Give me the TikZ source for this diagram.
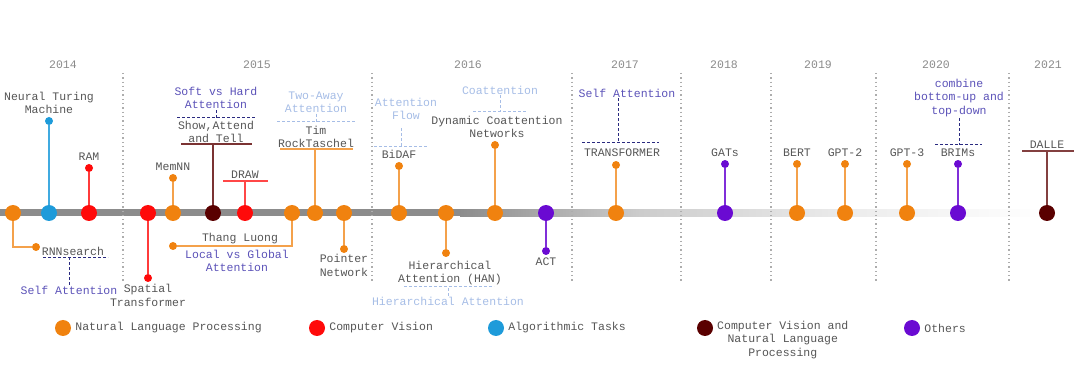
\documentclass[tikz,border=0pt]{standalone}
\usepackage{fontspec}
\setmainfont{Liberation Mono}
\usepackage{tikz}
\usetikzlibrary{positioning}
\definecolor{nlp}{HTML}{F0820F}
\definecolor{cv}{HTML}{FF0A0A}
\definecolor{algo}{HTML}{1E9BDA}
\definecolor{cvnlp}{HTML}{5A0000}
\definecolor{others}{HTML}{6A0AD2}
\definecolor{txtgray}{HTML}{555555}
\definecolor{yeargray}{HTML}{8A8A8A}
\definecolor{attnblue}{HTML}{5B52B8}
\definecolor{paleblue}{HTML}{A6BDE6}
\definecolor{navy}{HTML}{2A2A80}
\tikzset{
  bigdot/.style    = {circle, inner sep=0pt, minimum size=16pt},
  smalldot/.style  = {circle, inner sep=0pt, minimum size=8pt},
  tag/.style       = {text=txtgray, align=center, inner sep=1pt},
  attn/.style      = {tag, text=attnblue},
  pale/.style      = {tag, text=paleblue},
  year/.style      = {text=yeargray, inner sep=1pt},
  stem/.style      = {line width=1.4pt},
  bar/.style       = {line width=1.4pt},
  guide/.style     = {line width=1pt, dash pattern=on 3pt off 2pt, navy},
  paleguide/.style = {guide, paleblue},
  yearsep/.style   = {line width=1.3pt, yeargray!70, dash pattern=on 1.3pt off 3pt}
}

\begin{document}
\begin{tikzpicture}[x=1pt, y=-1pt, font=\fontsize{11.5}{13.3}\selectfont]
  \useasboundingbox (0,0) rectangle (1080,374);

  % Time line
  \fill[gray!90] (0,209.5) rectangle (460,216.5);
  \shade[left color=gray!90, right color=gray!40] (460,209.5) rectangle (640,216.5);
  \shade[left color=gray!40, right color=gray!15] (640,209.5) rectangle (850,216.5);
  \shade[left color=gray!15, right color=white]   (850,209.5) rectangle (1045,216.5);

  % Years and separators
  \node (y2014) [year] at (63,65)   {2014};
  \node (y2015) [year] at (257,65)  {2015};
  \node (y2016) [year] at (468,65)  {2016};
  \node (y2017) [year] at (625,65)  {2017};
  \node (y2018) [year] at (724,65)  {2018};
  \node (y2019) [year] at (818,65)  {2019};
  \node (y2020) [year] at (936,65)  {2020};
  \node (y2021) [year] at (1048,65) {2021};
  \draw[yearsep] (123,73)  -- (123,282);
  \draw[yearsep] (372,73)  -- (372,282);
  \draw[yearsep] (572,73)  -- (572,282);
  \draw[yearsep] (681,73)  -- (681,282);
  \draw[yearsep] (771,73)  -- (771,282);
  \draw[yearsep] (876,73)  -- (876,282);
  \draw[yearsep] (1009,73) -- (1009,282);

  % 2014
  \node (rnn)     [bigdot, fill=nlp]     at (13,213)  {};
  \node (ntm)     [bigdot, fill=algo]    at (49,213)  {};
  \node (ram)     [bigdot, fill=cv]      at (89,213)  {};
  \node (rnn-e)   [smalldot, fill=nlp]   at (36,247)  {};
  \node (ntm-e)   [smalldot, fill=algo]  at (49,121)  {};
  \node (ram-e)   [smalldot, fill=cv]    at (89,168)  {};
  \node (ntm-t)   [tag, above=2pt of ntm-e] {Neural Turing\\Machine};
  \node (ram-t)   [tag, above=2pt of ram-e] {RAM};
  \node (rnn-t)   [tag] at (73,251) {RNNsearch};
  \node (rnn-a)   [attn] at (69,290) {Self Attention};
  \coordinate (rnn-gl) at (43,258);
  \coordinate (rnn-gr) at (108,258);

  % 2015
  \node (stn)     [bigdot, fill=cv]      at (148,213) {};
  \node (memnn)   [bigdot, fill=nlp]     at (173,213) {};
  \node (sat)     [bigdot, fill=cvnlp]   at (213,213) {};
  \node (drw)     [bigdot, fill=cv]      at (245,213) {};
  \node (luong)   [bigdot, fill=nlp]     at (292,213) {};
  \node (tim)     [bigdot, fill=nlp]     at (315,213) {};
  \node (ptr)     [bigdot, fill=nlp]     at (344,213) {};
  \node (stn-e)   [smalldot, fill=cv]    at (148,278) {};
  \node (memnn-e) [smalldot, fill=nlp]   at (173,178) {};
  \node (luong-e) [smalldot, fill=nlp]   at (173,246) {};
  \node (ptr-e)   [smalldot, fill=nlp]   at (344,249) {};
  \node (stn-t)   [tag, below=1pt of stn-e]   {Spatial\\Transformer};
  \node (memnn-t) [tag, above=2pt of memnn-e] {MemNN};
  \node (ptr-t)   [tag, below=0pt of ptr-e]   {Pointer\\Network};
  \coordinate (sat-l) at (181,144);
  \coordinate (sat-r) at (252,144);
  \node (sat-t)   [tag, anchor=south] at (216,144) {Show,Attend\\and Tell};
  \node (sat-a)   [attn] at (216,98) {Soft vs Hard\\Attention};
  \coordinate (sat-gl) at (177,118);
  \coordinate (sat-gr) at (255,118);
  \coordinate (drw-l) at (223,181);
  \coordinate (drw-r) at (268,181);
  \node (drw-t)   [tag, anchor=south] at (245,180) {DRAW};
  \node (luong-t) [tag]  at (240,239) {Thang Luong};
  \node (luong-a) [attn] at (237,261) {Local vs Global\\Attention};
  \coordinate (tim-l) at (280,149);
  \coordinate (tim-r) at (353,149);
  \node (tim-t)   [tag, anchor=south] at (316,149) {Tim\\RockTaschel};
  \node (tim-a)   [pale] at (316,102) {Two-Away\\Attention};
  \coordinate (tim-gl) at (277,122);
  \coordinate (tim-gr) at (355,122);

  % 2016
  \node (bidaf)   [bigdot, fill=nlp]     at (399,213) {};
  \node (han)     [bigdot, fill=nlp]     at (446,213) {};
  \node (dcn)     [bigdot, fill=nlp]     at (495,213) {};
  \node (act)     [bigdot, fill=others]  at (546,213) {};
  \node (bidaf-e) [smalldot, fill=nlp]   at (399,166) {};
  \node (han-e)   [smalldot, fill=nlp]   at (446,253) {};
  \node (dcn-e)   [smalldot, fill=nlp]   at (495,145) {};
  \node (act-e)   [smalldot, fill=others] at (546,251) {};
  \node (bidaf-t) [tag, above=2pt of bidaf-e] {BiDAF};
  \node (bidaf-a) [pale] at (406,109) {Attention\\Flow};
  \coordinate (bidaf-gl) at (374,147);
  \coordinate (bidaf-gr) at (428,147);
  \node (han-t)   [tag] at (450,273) {Hierarchical\\Attention (HAN)};
  \node (han-a)   [pale] at (448,301) {Hierarchical Attention};
  \coordinate (han-gl) at (404,287);
  \coordinate (han-gr) at (494,287);
  \node (dcn-t)   [tag] at (497,127) {Dynamic Coattention\\Networks};
  \node (dcn-a)   [pale] at (500,90) {Coattention};
  \coordinate (dcn-gl) at (473,112);
  \coordinate (dcn-gr) at (527,112);
  \node (act-t)   [tag, below=1pt of act-e] {ACT};

  % 2017 - 2021
  \node (trans)   [bigdot, fill=nlp]     at (616,213)  {};
  \node (gats)    [bigdot, fill=others]  at (725,213)  {};
  \node (bert)    [bigdot, fill=nlp]     at (797,213)  {};
  \node (gpt2)    [bigdot, fill=nlp]     at (845,213)  {};
  \node (gpt3)    [bigdot, fill=nlp]     at (907,213)  {};
  \node (brims)   [bigdot, fill=others]  at (958,213)  {};
  \node (dalle)   [bigdot, fill=cvnlp]   at (1047,213) {};
  \node (trans-e) [smalldot, fill=nlp]    at (616,165) {};
  \node (gats-e)  [smalldot, fill=others] at (725,164) {};
  \node (bert-e)  [smalldot, fill=nlp]    at (797,164) {};
  \node (gpt2-e)  [smalldot, fill=nlp]    at (845,164) {};
  \node (gpt3-e)  [smalldot, fill=nlp]    at (907,164) {};
  \node (brims-e) [smalldot, fill=others] at (958,164) {};
  \node (trans-t) [tag] at (622,153) {TRANSFORMER};
  \node (trans-a) [attn] at (627,93) {Self Attention};
  \coordinate (trans-gl) at (582,143);
  \coordinate (trans-gr) at (659,143);
  \node (gats-t)  [tag, above=2pt of gats-e]  {GATs};
  \node (bert-t)  [tag, above=2pt of bert-e]  {BERT};
  \node (gpt2-t)  [tag, above=2pt of gpt2-e]  {GPT-2};
  \node (gpt3-t)  [tag, above=2pt of gpt3-e]  {GPT-3};
  \node (brims-t) [tag, above=2pt of brims-e] {BRIMs};
  \node (brims-a) [attn] at (959,98) {combine\\bottom-up and\\top-down};
  \coordinate (brims-gl) at (935,145);
  \coordinate (brims-gr) at (982,145);
  \coordinate (dalle-l) at (1022,151);
  \coordinate (dalle-r) at (1074,151);
  \node (dalle-t) [tag, anchor=south] at (1047,150) {DALLE};

  % Stems
  \draw[stem, algo!85]   (ntm)   -- (ntm-e);
  \draw[stem, cv!80]     (ram)   -- (ram-e);
  \draw[stem, nlp!75]    (rnn)   |- (rnn-e);
  \draw[stem, cv!80]     (stn)   -- (stn-e);
  \draw[stem, nlp!75]    (memnn) -- (memnn-e);
  \draw[stem, cvnlp!80]  (sat)   -- (sat |- sat-l);
  \draw[stem, cv!75]     (drw)   -- (drw |- drw-l);
  \draw[stem, nlp!75]    (luong) |- (luong-e);
  \draw[stem, nlp!75]    (tim)   -- (tim |- tim-l);
  \draw[stem, nlp!75]    (ptr)   -- (ptr-e);
  \draw[stem, nlp!75]    (bidaf) -- (bidaf-e);
  \draw[stem, nlp!75]    (han)   -- (han-e);
  \draw[stem, nlp!75]    (dcn)   -- (dcn-e);
  \draw[stem, others!85] (act)   -- (act-e);
  \draw[stem, nlp!75]    (trans) -- (trans-e);
  \draw[stem, others!85] (gats)  -- (gats-e);
  \draw[stem, nlp!75]    (bert)  -- (bert-e);
  \draw[stem, nlp!75]    (gpt2)  -- (gpt2-e);
  \draw[stem, nlp!75]    (gpt3)  -- (gpt3-e);
  \draw[stem, others!85] (brims) -- (brims-e);
  \draw[stem, cvnlp!75]  (dalle) -- (dalle |- dalle-l);

  % Bars under labels
  \draw[bar, cvnlp!80] (sat-l)   -- (sat-r);
  \draw[bar, cv!75]    (drw-l)   -- (drw-r);
  \draw[bar, nlp!75]   (tim-l)   -- (tim-r);
  \draw[bar, cvnlp!75] (dalle-l) -- (dalle-r);

  % Attention guides
  \draw[guide] (rnn-gl) -- (rnn-gr);
  \draw[guide] (rnn-a) -- (rnn-a |- rnn-gl);
  \draw[guide] (sat-gl) -- (sat-gr);
  \draw[guide] (sat-a) -- (sat-a |- sat-gl);
  \draw[paleguide] (tim-gl) -- (tim-gr);
  \draw[paleguide] (tim-a) -- (tim-a |- tim-gl);
  \draw[paleguide] (bidaf-gl) -- (bidaf-gr);
  \draw[paleguide] (401,128) -- (401,147);
  \draw[paleguide] (han-gl) -- (han-gr);
  \draw[paleguide] (han-a) -- (han-a |- han-gl);
  \draw[paleguide] (dcn-gl) -- (dcn-gr);
  \draw[paleguide] (dcn-a) -- (dcn-a |- dcn-gl);
  \draw[guide] (trans-gl) -- (trans-gr);
  \draw[guide] (trans-a.south -| 618,0) -- (618,143);
  \draw[guide] (brims-gl) -- (brims-gr);
  \draw[guide] (brims-a) -- (brims-a |- brims-gl);

  % Legend
  \node (lg-nlp)    [bigdot, fill=nlp]    at (63,328)  {};
  \node (lg-cv)     [bigdot, fill=cv]     at (317,328) {};
  \node (lg-algo)   [bigdot, fill=algo]   at (496,328) {};
  \node (lg-cvnlp)  [bigdot, fill=cvnlp]  at (705,328) {};
  \node (lg-others) [bigdot, fill=others] at (912,328) {};
  \node (lg-nlp-t)    [tag, right=3pt of lg-nlp]    {Natural Language Processing};
  \node (lg-cv-t)     [tag, right=3pt of lg-cv]     {Computer Vision};
  \node (lg-algo-t)   [tag, right=3pt of lg-algo]   {Algorithmic Tasks};
  \node (lg-cvnlp-t)  [tag, anchor=north west] at (716,320) {Computer Vision and\\Natural Language\\Processing};
  \node (lg-others-t) [tag, right=3pt of lg-others] {Others};
\end{tikzpicture}
\end{document}
